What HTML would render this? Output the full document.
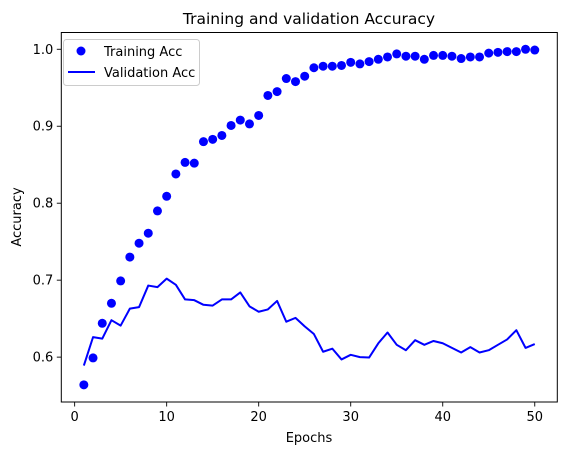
<!DOCTYPE html>
<html><head><meta charset="utf-8"><style>
html,body{margin:0;padding:0;background:#fff;width:567px;height:455px;overflow:hidden;}
svg{display:block;}
svg text{font-family:"DejaVu Sans","Liberation Sans",sans-serif;fill:#000;}
</style></head><body>
<svg id="chart" width="567" height="455" xmlns="http://www.w3.org/2000/svg">
<rect width="567" height="455" fill="#fff"/>
<g id="marks"></g>
<g id="axes"></g>
<text x="309" y="24" text-anchor="middle" font-size="15.5">Training and validation Accuracy</text>
<text x="309" y="442" text-anchor="middle" font-size="13">Epochs</text>
<text x="21" y="217" text-anchor="middle" font-size="13" transform="rotate(-90 21 217)">Accuracy</text>
<g>
<rect x="63.5" y="39.5" width="136" height="46" rx="3" fill="#fff" fill-opacity="0.8" stroke="#ccc"/>
<circle cx="81" cy="51" r="4.5" fill="#0000ff"/>
<text x="104" y="56" font-size="13">Training Acc</text>
<line x1="68" x2="95" y1="72" y2="72" stroke="#0000ff" stroke-width="2"/>
<text x="104" y="77" font-size="13">Validation Acc</text>
</g>
</svg>
<script>
const epochs = [1,2,3,4,5,6,7,8,9,10,11,12,13,14,15,16,17,18,19,20,21,22,23,24,25,26,27,28,29,30,31,32,33,34,35,36,37,38,39,40,41,42,43,44,45,46,47,48,49,50];
const trainAcc = [0.564,0.599,0.644,0.670,0.699,0.730,0.748,0.761,0.790,0.809,0.838,0.853,0.852,0.880,0.883,0.888,0.901,0.908,0.903,0.914,0.940,0.945,0.962,0.958,0.965,0.976,0.978,0.978,0.979,0.983,0.981,0.984,0.987,0.990,0.994,0.991,0.991,0.987,0.992,0.992,0.991,0.988,0.990,0.990,0.995,0.996,0.997,0.997,1.000,0.999];
const valAcc = [0.589,0.626,0.624,0.648,0.641,0.663,0.665,0.693,0.691,0.702,0.694,0.675,0.674,0.668,0.667,0.675,0.675,0.684,0.666,0.659,0.662,0.673,0.646,0.651,0.640,0.630,0.607,0.611,0.597,0.603,0.600,0.5995,0.618,0.632,0.616,0.609,0.622,0.616,0.621,0.618,0.612,0.606,0.613,0.606,0.609,0.616,0.623,0.635,0.612,0.617];
const xTicks = [0,10,20,30,40,50];
const yTicks = [0.6,0.7,0.8,0.9,1.0];
const yTickLabels = ["0.6","0.7","0.8","0.9","1.0"];

const NS="http://www.w3.org/2000/svg";
const L=61.3,R=557.3,T=32.5,B=402;
const xmin=-1.45,xmax=52.45;
const ymin=0.5417,ymax=1.0218;
const xs=v=>L+(v-xmin)/(xmax-xmin)*(R-L);
const ys=v=>B-(v-ymin)/(ymax-ymin)*(B-T);
function mk(tag,attrs,parent){const e=document.createElementNS(NS,tag);for(const k in attrs)e.setAttribute(k,attrs[k]);parent.appendChild(e);return e;}
const marks=document.getElementById('marks');
const axes=document.getElementById('axes');

let d=valAcc.map((v,i)=>(i?'L':'M')+xs(epochs[i]).toFixed(2)+' '+ys(v).toFixed(2)).join(' ');
const line=mk('path',{d:d,fill:'none',stroke:'#0000ff','stroke-width':2,'stroke-linejoin':'round'},marks);


trainAcc.forEach((v,i)=>{
  const c=mk('circle',{cx:xs(epochs[i]),cy:ys(v),r:4.5,fill:'#0000ff'},marks);
  
  
});

const frame=mk('rect',{x:L,y:T,width:R-L,height:B-T,fill:'none',stroke:'#000','stroke-width':1},axes);


xTicks.forEach(t=>{
  const x=xs(t);
  mk('line',{x1:x,x2:x,y1:B,y2:B+4.5,stroke:'#000','stroke-width':0.9},axes);
  const tx=mk('text',{x:x,y:B+19,'text-anchor':'middle','font-size':13},axes);
  tx.textContent=String(t);
  
  
});
yTicks.forEach((t,i)=>{
  const y=ys(t);
  mk('line',{x1:L-4.5,x2:L,y1:y,y2:y,stroke:'#000','stroke-width':0.9},axes);
  const tx=mk('text',{x:L-8,y:y+4.5,'text-anchor':'end','font-size':13},axes);
  tx.textContent=yTickLabels[i];
  
  
});
</script>
</body></html>
